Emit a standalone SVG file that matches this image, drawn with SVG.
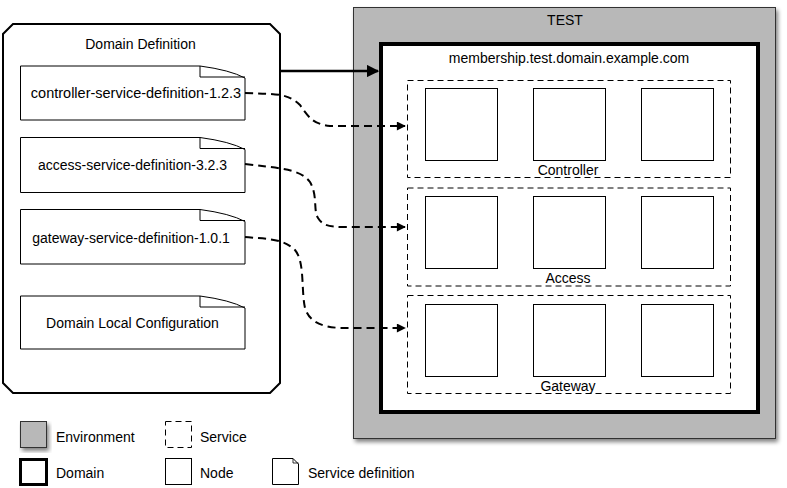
<svg xmlns="http://www.w3.org/2000/svg" width="787" height="488" viewBox="0 0 787 488">
<style>
text{font-family:"Liberation Sans",Arial,sans-serif;font-size:14px;fill:#000;text-anchor:middle}
.lt{text-anchor:start}
.doc{fill:#fff;stroke:#000;stroke-width:1}
.node{fill:#fff;stroke:#000;stroke-width:1}
.svc{fill:#fff;stroke:#000;stroke-width:1;stroke-dasharray:6 4}
.env{fill:#b8b8b8;stroke:#333;stroke-width:1}
.dom{fill:#fff;stroke:#000;stroke-width:4}
.dash{fill:none;stroke:#000;stroke-width:2;stroke-dasharray:8 5}
</style>
<defs>
<filter id="sh" x="-10%" y="-10%" width="130%" height="130%">
<feGaussianBlur in="SourceAlpha" stdDeviation="2"/>
<feOffset dx="2" dy="3" result="b"/>
<feComponentTransfer><feFuncA type="linear" slope="0.5"/></feComponentTransfer>
<feMerge><feMergeNode/><feMergeNode in="SourceGraphic"/></feMerge>
</filter>
<marker id="ah" viewBox="0 0 10 10" refX="9" refY="5" markerWidth="5" markerHeight="5" markerUnits="strokeWidth" orient="auto">
<path d="M0,0 L10,5 L0,10 Z" fill="#000"/>
</marker>
<marker id="ah2" viewBox="0 0 10 10" refX="9" refY="5" markerWidth="5.5" markerHeight="4.5" markerUnits="strokeWidth" orient="auto">
<path d="M0,0 L10,5 L0,10 Z" fill="#000"/>
</marker>
</defs>

<g id="domain-definition">
<path d="M13,24 H270 L280,34 V383 L270,393 H13 L3,383 V34 Z" fill="#fff" stroke="#000" stroke-width="2"/>
<text x="140.5" y="49">Domain Definition</text>
</g>

<g id="controller-def">
<path class="doc" d="M20.5,66 H200 Q230,70 245,78 V120 H20.5 Z"/>
<path d="M200,66 V77 H245" fill="none" stroke="#000" stroke-width="1"/>
<text x="136" y="98" style="font-size:14.5px">controller-service-definition-1.2.3</text>
</g>
<g id="access-def">
<path class="doc" d="M20.5,137.5 H200 Q230,141.5 245,149.5 V192.5 H20.5 Z"/>
<path d="M200,137.5 V148.5 H245" fill="none" stroke="#000" stroke-width="1"/>
<text x="132.5" y="169.5">access-service-definition-3.2.3</text>
</g>
<g id="gateway-def">
<path class="doc" d="M20.5,209.5 H200 Q230,213.5 245,221.5 V264 H20.5 Z"/>
<path d="M200,209.5 V220.5 H245" fill="none" stroke="#000" stroke-width="1"/>
<text x="131" y="242.5">gateway-service-definition-1.0.1</text>
</g>
<g id="local-config">
<path class="doc" d="M20.5,296 H200 Q230,300 245,308 V349 H20.5 Z"/>
<path d="M200,296 V307 H245" fill="none" stroke="#000" stroke-width="1"/>
<text x="132.5" y="328">Domain Local Configuration</text>
</g>

<g id="env-test">
<rect class="env" x="353.5" y="7.5" width="422" height="431" filter="url(#sh)"/>
<text x="565" y="25">TEST</text>
</g>

<g id="domain-membership">
<rect class="dom" x="381" y="44" width="377" height="368"/>
<text x="569" y="63">membership.test.domain.example.com</text>
</g>

<g id="svc-controller">
<rect class="svc" x="407.5" y="80.5" width="323" height="97"/>
<text x="568" y="175">Controller</text>
</g>
<g id="svc-access">
<rect class="svc" x="407.5" y="188" width="323" height="98"/>
<text x="568" y="283">Access</text>
</g>
<g id="svc-gateway">
<rect class="svc" x="407.5" y="295.5" width="323" height="98"/>
<text x="568" y="391">Gateway</text>
</g>

<g id="nodes">
<rect class="node" x="425.5" y="88.5" width="72" height="72"/>
<rect class="node" x="533.5" y="88.5" width="72" height="72"/>
<rect class="node" x="641.5" y="88.5" width="72" height="72"/>
<rect class="node" x="425.5" y="196.5" width="72" height="72"/>
<rect class="node" x="533.5" y="196.5" width="72" height="72"/>
<rect class="node" x="641.5" y="196.5" width="72" height="72"/>
<rect class="node" x="425.5" y="304.5" width="72" height="72"/>
<rect class="node" x="533.5" y="304.5" width="72" height="72"/>
<rect class="node" x="641.5" y="304.5" width="72" height="72"/>
</g>

<g id="connectors">
<path d="M281,71 H378" fill="none" stroke="#000" stroke-width="2.5" marker-end="url(#ah)"/>
<path class="dash" d="M245,93 C275,94 288,93 300,105 C310,120 315,124 330,126 H405" marker-end="url(#ah2)"/>
<path class="dash" d="M245,164 C275,168 300,168 310,182 C318,196 313,210 318,218 C323,226 330,227 345,227 H405" marker-end="url(#ah2)"/>
<path class="dash" d="M245,237 C265,239 283,238 295,250 C305,262 301,290 305,308 C310,324 325,327 340,328 H405" marker-end="url(#ah2)"/>
</g>

<g id="legend">
<rect class="env" x="20.5" y="421.5" width="26" height="26" filter="url(#sh)"/>
<text class="lt" x="56" y="442">Environment</text>
<rect class="svc" x="165.5" y="421.5" width="26" height="26" stroke-dasharray="5 4"/>
<text class="lt" x="200" y="442">Service</text>
<rect x="20.5" y="459.5" width="26" height="25" fill="#fff" stroke="#000" stroke-width="3"/>
<text class="lt" x="56" y="478">Domain</text>
<rect class="node" x="165.5" y="458.5" width="26" height="26"/>
<text class="lt" x="200" y="478">Node</text>
<path class="doc" d="M272.5,458.5 H293 L298.5,464 V484.5 H272.5 Z"/>
<path d="M293,458.5 V463 H298.5" fill="none" stroke="#000" stroke-width="0.8"/>
<text class="lt" x="308" y="478">Service definition</text>
</g>
</svg>
